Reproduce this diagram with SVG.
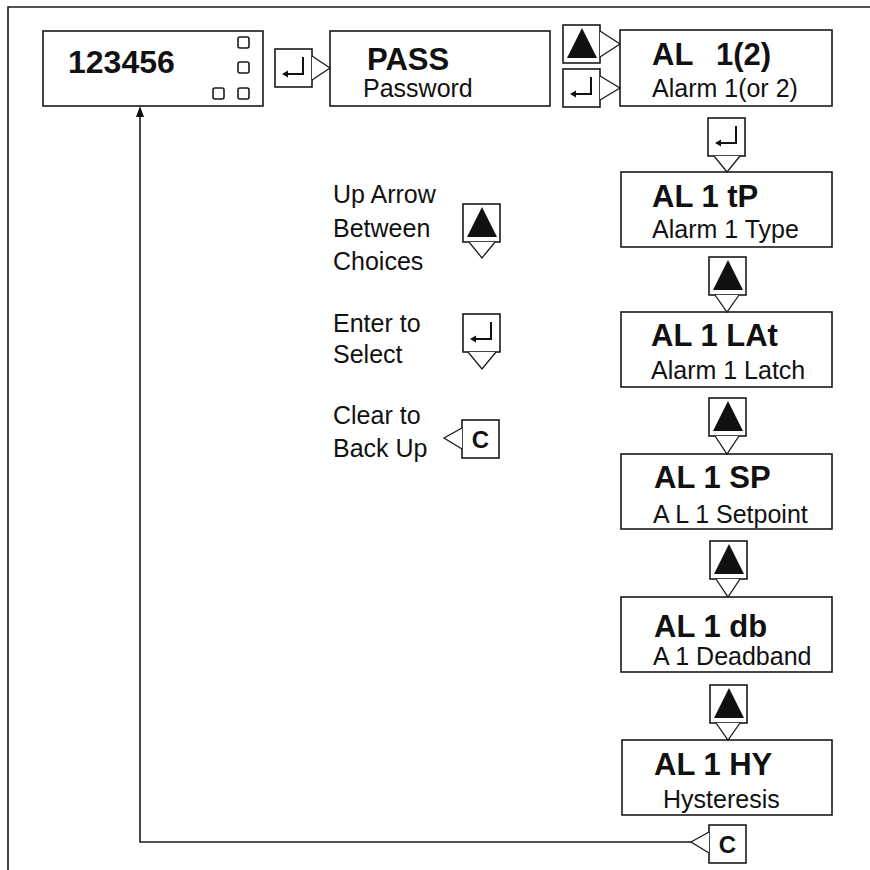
<svg xmlns="http://www.w3.org/2000/svg" xmlns:xlink="http://www.w3.org/1999/xlink" width="870" height="870" viewBox="0 0 870 870">
<style>
.bx{fill:#fff;stroke:#1a1a1a;stroke-width:1.6}
.ln{fill:none;stroke:#1a1a1a;stroke-width:1.6}
.tri{fill:#fff;stroke:#1a1a1a;stroke-width:1.3}
.t{font-family:"Liberation Sans",Arial,sans-serif;font-weight:bold;font-size:31px;fill:#111}
.s{font-family:"Liberation Sans",Arial,sans-serif;font-size:25px;fill:#111}
.c{font-family:"Liberation Sans",Arial,sans-serif;font-weight:bold;font-size:24px;fill:#111;text-anchor:middle}
</style>
<defs>
<g id="btnUp"><rect class="bx" x="0" y="0" width="37" height="38"/><polygon points="4,33 19,3 34,33" fill="#111"/></g>
<g id="btnEnter"><rect class="bx" x="0" y="0" width="37" height="38"/><path d="M28,8 V25 H11" fill="none" stroke="#111" stroke-width="2"/><polygon points="7,25 13,21.5 13,28.5" fill="#111"/></g>
<g id="btnC"><rect class="bx" x="0" y="0" width="37" height="38"/><text class="c" x="18.5" y="28">C</text></g>
<marker id="arrUp" markerWidth="10" markerHeight="12" refX="5" refY="1" orient="auto" markerUnits="userSpaceOnUse" viewBox="0 0 10 12"><polygon points="1,1 9,6 1,11" fill="#111"/></marker>
</defs>

<path class="ln" d="M8,870 V7 H870" stroke-width="2.2"/>

<g id="n-123456">
<rect class="bx" x="43" y="31" width="220" height="75"/>
<text class="t" x="68" y="73" style="font-size:32px">123456</text>
<rect class="bx" x="238" y="37" width="11" height="11" rx="2"/>
<rect class="bx" x="238" y="62" width="11" height="11" rx="2"/>
<rect class="bx" x="238" y="88" width="11" height="11" rx="2"/>
<rect class="bx" x="213" y="88" width="11" height="11" rx="2"/>
</g>

<g id="n-pass">
<rect class="bx" x="330" y="31" width="220" height="75"/>
<text class="t" x="367" y="70">PASS</text>
<text class="s" x="363" y="97">Password</text>
</g>

<g id="n-al12">
<rect class="bx" x="620" y="30" width="212" height="76"/>
<text class="t" x="652" y="65">AL<tspan x="716">1(2)</tspan></text>
<text class="s" x="652" y="97">Alarm 1(or 2)</text>
</g>

<g id="n-al1tp">
<rect class="bx" x="621" y="172" width="211" height="75"/>
<text class="t" x="652" y="207">AL 1 tP</text>
<text class="s" x="652" y="238">Alarm 1 Type</text>
</g>

<g id="n-al1lat">
<rect class="bx" x="621" y="312" width="211" height="75"/>
<text class="t" x="651" y="346">AL 1 LAt</text>
<text class="s" x="651" y="379">Alarm 1 Latch</text>
</g>

<g id="n-al1sp">
<rect class="bx" x="621" y="454" width="211" height="75"/>
<text class="t" x="654" y="488">AL 1 SP</text>
<text class="s" x="653" y="523">A L 1 Setpoint</text>
</g>

<g id="n-al1db">
<rect class="bx" x="621" y="597" width="211" height="75"/>
<text class="t" x="654" y="637">AL 1 db</text>
<text class="s" x="653" y="665">A 1 Deadband</text>
</g>

<g id="n-al1hy">
<rect class="bx" x="622" y="740" width="210" height="75"/>
<text class="t" x="654" y="775">AL 1 HY</text>
<text class="s" x="663" y="808">Hysteresis</text>
</g>

<g id="connectors">
<use xlink:href="#btnEnter" x="275" y="49"/>
<polyline class="tri" points="312,56 330,68 312,80"/>
<use xlink:href="#btnUp" x="563" y="25"/>
<polyline class="tri" points="600,31 620,44 600,57"/>
<use xlink:href="#btnEnter" x="563" y="69"/>
<polyline class="tri" points="600,76 620,88 600,100"/>
<use xlink:href="#btnEnter" x="708" y="118"/>
<polyline class="tri" points="714,156 727,172 740,156"/>
<use xlink:href="#btnUp" x="709" y="257"/>
<polyline class="tri" points="715,295 727,312 739,295"/>
<use xlink:href="#btnUp" x="709" y="398"/>
<polyline class="tri" points="715,436 727,454 739,436"/>
<use xlink:href="#btnUp" x="710" y="541"/>
<polyline class="tri" points="716,579 728,597 740,579"/>
<use xlink:href="#btnUp" x="710" y="685"/>
<polyline class="tri" points="716,723 728,740 740,723"/>
<use xlink:href="#btnC" x="709" y="825"/>
<polyline class="tri" points="709,832 691,842 709,853"/>
<path class="ln" d="M691,842 H140 V116"/>
<polygon points="140,106 136,117 144,117" fill="#111"/>
</g>

<g id="legend">
<text class="s" x="333" y="203">Up Arrow</text>
<text class="s" x="333" y="237">Between</text>
<text class="s" x="333" y="270">Choices</text>
<use xlink:href="#btnUp" x="463" y="204"/>
<polyline class="tri" points="469,242 482,258 495,242"/>
<text class="s" x="333" y="332">Enter to</text>
<text class="s" x="333" y="363">Select</text>
<use xlink:href="#btnEnter" x="463" y="314"/>
<polyline class="tri" points="468,352 482,369 496,352"/>
<text class="s" x="333" y="424">Clear to</text>
<text class="s" x="333" y="457">Back Up</text>
<use xlink:href="#btnC" x="462" y="420"/>
<polyline class="tri" points="462,428 444,438 462,449"/>
</g>
</svg>
